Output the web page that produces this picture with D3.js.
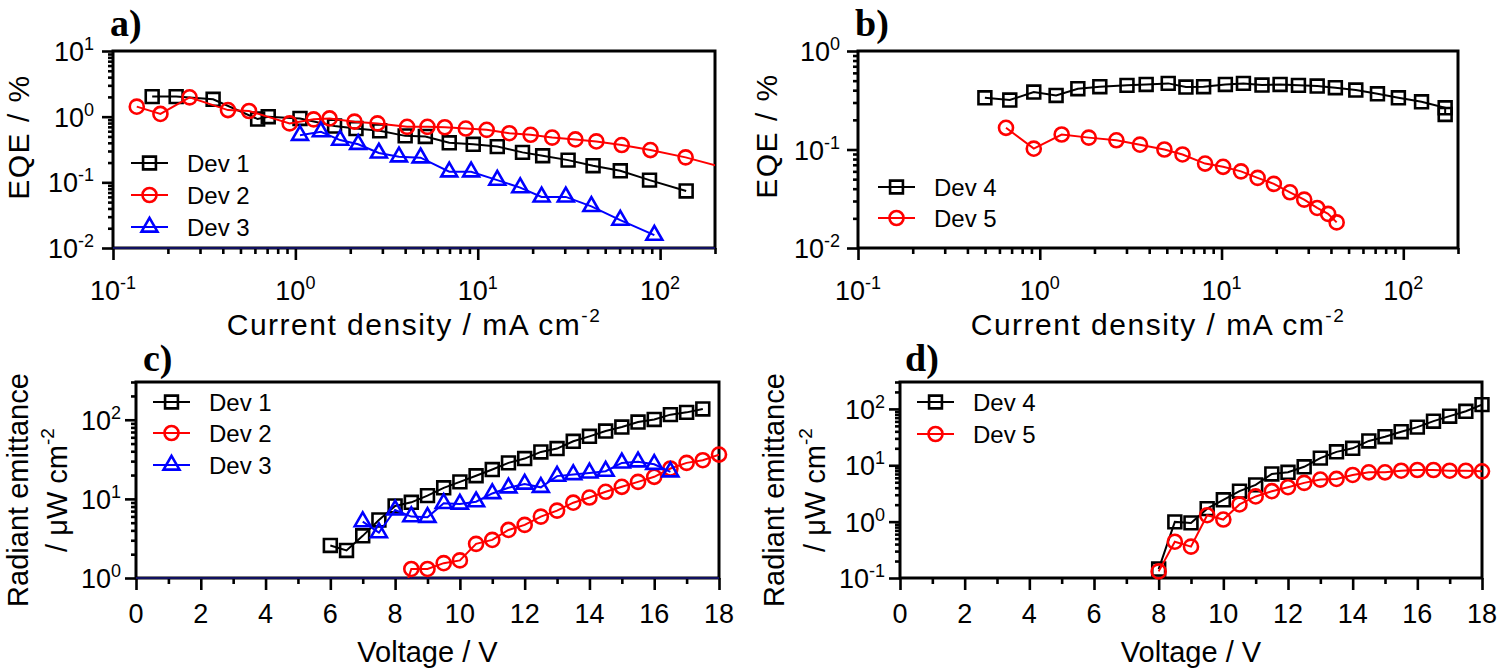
<!DOCTYPE html>
<html>
<head>
<meta charset="utf-8">
<script src="https://cdn.jsdelivr.net/npm/d3@7"></script>
<style>
  body { margin: 0; background: #fff; }
  svg text { font-family: "Liberation Sans", Arial, sans-serif; fill: #000; }
  .panel-label { font-family: "Liberation Serif", "Times New Roman", serif; font-weight: bold; }
</style>
</head>
<body>
<div id="figure"></div>
<script>
// ---- data ----
// a) EQE (%) vs current density (mA cm-2)
var dev1J = [0.164, 0.222, 0.354, 0.621, 0.71, 1.06, 1.64, 2.15, 2.9, 4.0, 5.16, 6.98, 9.45, 12.8, 17.6, 22.7, 31.3, 42.9, 60.5, 87.5, 139];
var dev1EQE = [2.02, 2.02, 1.84, 0.92, 1.0, 0.94, 0.72, 0.66, 0.61, 0.51, 0.50, 0.40, 0.38, 0.35, 0.286, 0.254, 0.218, 0.179, 0.15, 0.108, 0.074];
var dev2J = [0.135, 0.182, 0.263, 0.427, 0.557, 0.93, 1.26, 1.54, 2.11, 2.82, 4.1, 5.3, 6.6, 8.6, 11.2, 14.9, 19.5, 25.6, 34.3, 44.7, 61.6, 88.5, 138, 220];
var dev2EQE = [1.42, 1.10, 1.97, 1.26, 1.22, 0.79, 0.91, 0.94, 0.84, 0.79, 0.70, 0.70, 0.69, 0.66, 0.63, 0.56, 0.53, 0.48, 0.45, 0.42, 0.37, 0.31, 0.24, 0.17];
var dev3J = [1.06, 1.38, 1.76, 2.21, 2.87, 3.7, 4.86, 6.98, 9.2, 12.8, 17.1, 22.4, 30.4, 42, 60.5, 93];
var dev3EQE = [0.52, 0.59, 0.44, 0.38, 0.28, 0.245, 0.237, 0.145, 0.145, 0.108, 0.083, 0.060, 0.060, 0.043, 0.0266, 0.0157];

// b) EQE (%) vs current density
var dev4J = [0.499, 0.684, 0.927, 1.23, 1.62, 2.14, 3.02, 3.85, 5.09, 6.37, 7.97, 10.5, 13.2, 16.7, 21.0, 26.5, 33.6, 42.3, 54.8, 72.1, 94, 126, 170, 170];
var dev4EQE = [0.335, 0.318, 0.383, 0.354, 0.414, 0.434, 0.448, 0.458, 0.469, 0.431, 0.434, 0.458, 0.469, 0.451, 0.458, 0.448, 0.441, 0.424, 0.401, 0.368, 0.335, 0.305, 0.265, 0.227];
var dev5J = [0.652, 0.927, 1.32, 1.86, 2.64, 3.56, 4.85, 6.1, 8.12, 10.2, 12.8, 15.8, 19.4, 23.8, 28.5, 33.6, 38.6, 43];
var dev5EQE = [0.166, 0.102, 0.142, 0.132, 0.124, 0.112, 0.100, 0.089, 0.072, 0.0667, 0.060, 0.0515, 0.0448, 0.0368, 0.031, 0.0255, 0.0222, 0.0182];

// c) radiant emittance (uW cm-2) vs voltage (V)
var dev1V = [6, 6.5, 7, 7.5, 8, 8.5, 9, 9.5, 10, 10.5, 11, 11.5, 12, 12.5, 13, 13.5, 14, 14.5, 15, 15.5, 16, 16.5, 17, 17.5];
var dev1Rad = [2.58, 2.23, 3.41, 5.42, 8.13, 9.04, 11.0, 13.8, 16.4, 19.6, 23.5, 28.5, 32.3, 39.2, 43.2, 53.4, 61.7, 72.0, 80.9, 93.5, 101, 116, 124, 137];
var dev2V = [8, 8.5, 9, 9.5, 10, 10.5, 11, 11.5, 12, 12.5, 13, 13.5, 14, 14.5, 15, 15.5, 16, 16.5, 17, 17.5, 18];
var dev2Rad = [0.31, 1.30, 1.30, 1.54, 1.67, 2.70, 3.03, 4.05, 4.69, 5.97, 7.10, 8.95, 10.4, 12.3, 14.2, 16.4, 19.0, 24.2, 28.5, 30.8, 36.3];
var dev3V = [7, 7.5, 8, 8.5, 9, 9.5, 10, 10.5, 11, 11.5, 12, 12.5, 13, 13.5, 14, 14.5, 15, 15.5, 16, 16.5];
var dev3Rad = [5.16, 3.75, 7.24, 5.97, 5.85, 8.78, 8.61, 9.21, 11.7, 13.8, 15.4, 14.0, 19.4, 20.3, 21.3, 22.4, 28.5, 29.4, 27.4, 22.0];

// d) radiant emittance vs voltage
var dev45V = [8, 8.5, 9, 9.5, 10, 10.5, 11, 11.5, 12, 12.5, 13, 13.5, 14, 14.5, 15, 15.5, 16, 16.5, 17, 17.5, 18];
var dev4Rad = [0.144, 0.99, 0.95, 1.70, 2.44, 3.47, 4.49, 7.0, 7.5, 9.4, 13.4, 17.3, 20.0, 27.0, 32.1, 39.4, 47.5, 60.6, 74.3, 90.8, 119];
var dev5Rad = [0.131, 0.44, 0.36, 1.30, 1.09, 2.02, 2.80, 3.47, 4.08, 4.87, 5.57, 5.72, 6.73, 7.5, 7.5, 8.0, 8.24, 8.24, 8.0, 8.0, 7.8];

// ---- chart setup ----
var svgWidth = 1501;
var svgHeight = 670;

var svg = d3.select("#figure")
  .append("svg")
  .attr("width", svgWidth)
  .attr("height", svgHeight);

var symbols = {
  square: d3.symbol().type(d3.symbolSquare).size(165),
  circle: d3.symbol().type(d3.symbolCircle).size(155),
  triangle: d3.symbol().type(d3.symbolTriangle).size(110)
};

function isPow10(v) {
  var l = Math.log10(v);
  return Math.abs(l - Math.round(l)) < 1e-9;
}

// writes "10" with a raised exponent
function powerLabel(textSel, v) {
  textSel.append("tspan").text("10");
  textSel.append("tspan")
    .attr("dy", -11)
    .attr("font-size", 18)
    .text(Math.round(Math.log10(v)));
}

function drawPanel(p) {
  var g = svg.append("g");

  var x = (p.xLog ? d3.scaleLog() : d3.scaleLinear())
    .domain(p.xDomain)
    .range([p.left, p.right]);
  var y = d3.scaleLog()
    .domain(p.yDomain)
    .range([p.bottom, p.top]);

  var xAll = p.xLog ? x.ticks() : x.ticks(18);
  var xMajor = xAll.filter(v => p.xLog ? isPow10(v) : v % 2 === 0);
  var xMinor = xAll.filter(v => xMajor.indexOf(v) < 0);
  var yAll = y.ticks();
  var yMajor = yAll.filter(isPow10);
  var yMinor = yAll.filter(v => !isPow10(v));

  // axes (ticks only, the frame is drawn as a rect)
  var axes = [
    g.append("g").attr("transform", `translate(0, ${p.bottom})`)
      .call(d3.axisBottom(x).tickValues(xMajor).tickSize(12).tickFormat("")),
    g.append("g").attr("transform", `translate(0, ${p.bottom})`)
      .call(d3.axisBottom(x).tickValues(xMinor).tickSize(6).tickFormat("")),
    g.append("g").attr("transform", `translate(${p.left}, 0)`)
      .call(d3.axisLeft(y).tickValues(yMajor).tickSize(11).tickFormat("")),
    g.append("g").attr("transform", `translate(${p.left}, 0)`)
      .call(d3.axisLeft(y).tickValues(yMinor).tickSize(5).tickFormat(""))
  ];
  axes.forEach(function(a) {
    a.select(".domain").remove();
    a.selectAll(".tick line").attr("stroke", "#000").attr("stroke-width", 2.6);
  });

  g.append("rect")
    .attr("x", p.left)
    .attr("y", p.top)
    .attr("width", p.right - p.left)
    .attr("height", p.bottom - p.top)
    .attr("fill", "none")
    .attr("stroke", "#000")
    .attr("stroke-width", 3);

  if (p.baseColor) {
    g.append("line")
      .attr("x1", p.left).attr("x2", p.right)
      .attr("y1", p.bottom).attr("y2", p.bottom)
      .attr("stroke", p.baseColor)
      .attr("stroke-width", 1.2);
  }

  // tick labels
  g.selectAll(".xlab")
    .data(xMajor)
    .enter()
    .append("text")
    .attr("x", d => x(d))
    .attr("y", p.bottom + p.xLabelDy)
    .attr("text-anchor", "middle")
    .attr("font-size", 27)
    .each(function(d) {
      if (p.xLog) powerLabel(d3.select(this), d);
      else d3.select(this).text(d);
    });

  g.selectAll(".ylab")
    .data(yMajor)
    .enter()
    .append("text")
    .attr("x", p.left - p.yLabelGap)
    .attr("y", d => y(d) + 10)
    .attr("text-anchor", "end")
    .attr("font-size", 27)
    .each(function(d) { powerLabel(d3.select(this), d); });

  // axis titles
  var xt = g.append("text")
    .attr("x", (p.left + p.right) / 2)
    .attr("y", p.bottom + p.xTitleDy)
    .attr("text-anchor", "middle")
    .attr("font-size", p.titleSize)
    .attr("letter-spacing", p.titleSpacing);
  xt.append("tspan").text(p.xTitle);
  if (p.xTitleSup) {
    xt.append("tspan").attr("dy", -13).attr("font-size", 19).text(p.xTitleSup);
  }

  p.yTitle.forEach(function(t) {
    var yt = g.append("text")
      .attr("transform", `translate(${t.cx}, ${p.yTitleCy}) rotate(-90)`)
      .attr("dy", "0.36em")
      .attr("text-anchor", "middle")
      .attr("font-size", p.titleSize)
      .attr("letter-spacing", p.titleSpacing);
    yt.append("tspan").text(t.text);
    if (t.sup) {
      yt.append("tspan").attr("dy", -13).attr("font-size", 19).text(t.sup);
    }
  });

  // panel letter
  g.append("text")
    .attr("class", "panel-label")
    .attr("x", p.labelX)
    .attr("y", p.labelY)
    .attr("font-size", 38)
    .text(p.label);

  // series
  var clipId = "clip-" + p.label.replace(")", "");
  svg.append("clipPath")
    .attr("id", clipId)
    .append("rect")
    .attr("x", p.left)
    .attr("y", p.top)
    .attr("width", p.right - p.left)
    .attr("height", p.bottom - p.top);

  var line = d3.line()
    .x(d => x(d[0]))
    .y(d => y(d[1]));

  p.series.forEach(function(s, i) {
    var pts = d3.zip(s.x, s.y);
    g.append("path")
      .datum(pts)
      .attr("d", line)
      .attr("fill", "none")
      .attr("stroke", s.color)
      .attr("stroke-width", 2)
      .attr("clip-path", `url(#${clipId})`);

    var inside = pts.filter(d => d[0] >= x.domain()[0] && d[0] <= x.domain()[1] &&
      d[1] >= y.domain()[0] && d[1] <= y.domain()[1]);
    g.selectAll(".m" + i)
      .data(inside)
      .enter()
      .append("path")
      .attr("d", symbols[s.symbol])
      .attr("transform", d => `translate(${x(d[0])}, ${y(d[1])})`)
      .attr("fill", "none")
      .attr("stroke", s.color)
      .attr("stroke-width", 2.6);

    // legend entry
    var ly = p.legend.y[i];
    g.append("line")
      .attr("x1", p.legend.x).attr("x2", p.legend.x + 37)
      .attr("y1", ly).attr("y2", ly)
      .attr("stroke", s.color)
      .attr("stroke-width", 2);
    g.append("path")
      .attr("d", symbols[s.symbol])
      .attr("transform", `translate(${p.legend.x + 18.5}, ${ly})`)
      .attr("fill", "none")
      .attr("stroke", s.color)
      .attr("stroke-width", 2.6);
    g.append("text")
      .attr("x", p.legend.x + 56)
      .attr("y", ly + 8.5)
      .attr("font-size", 24)
      .text(s.name);
  });
}

var black = "#000000";
var red = "#ff0000";
var blue = "#0000ff";

drawPanel({
  label: "a)", labelX: 110, labelY: 36,
  left: 113, right: 715, top: 51, bottom: 248,
  xLog: true, xDomain: [0.1, 200], yDomain: [0.01, 10],
  xLabelDy: 52, xTitleDy: 87, yLabelGap: 19,
  titleSize: 30, titleSpacing: 1.5,
  xTitle: "Current density / mA cm", xTitleSup: "-2",
  yTitle: [{ cx: 18, text: "EQE / %" }], yTitleCy: 137,
  baseColor: "#2020c0",
  legend: { x: 131, y: [163, 195, 227] },
  series: [
    { name: "Dev 1", x: dev1J, y: dev1EQE, color: black, symbol: "square" },
    { name: "Dev 2", x: dev2J, y: dev2EQE, color: red, symbol: "circle" },
    { name: "Dev 3", x: dev3J, y: dev3EQE, color: blue, symbol: "triangle" }
  ]
});

drawPanel({
  label: "b)", labelX: 855, labelY: 36,
  left: 858, right: 1458, top: 51, bottom: 248,
  xLog: true, xDomain: [0.1, 200], yDomain: [0.01, 1],
  xLabelDy: 52, xTitleDy: 87, yLabelGap: 18,
  titleSize: 30, titleSpacing: 1.5,
  xTitle: "Current density / mA cm", xTitleSup: "-2",
  yTitle: [{ cx: 766, text: "EQE / %" }], yTitleCy: 136,
  legend: { x: 878, y: [187, 218] },
  series: [
    { name: "Dev 4", x: dev4J, y: dev4EQE, color: black, symbol: "square" },
    { name: "Dev 5", x: dev5J, y: dev5EQE, color: red, symbol: "circle" }
  ]
});

drawPanel({
  label: "c)", labelX: 143, labelY: 371,
  left: 136, right: 719, top: 382, bottom: 578,
  xLog: false, xDomain: [0, 18], yDomain: [1, 300],
  xLabelDy: 45, xTitleDy: 84, yLabelGap: 15,
  titleSize: 29, titleSpacing: 0,
  xTitle: "Voltage / V",
  yTitle: [{ cx: 18, text: "Radiant emittance" }, { cx: 57, text: "/ \u03bcW cm", sup: "-2" }], yTitleCy: 490,
  baseColor: "#2020c0",
  legend: { x: 153, y: [402, 433, 465] },
  series: [
    { name: "Dev 1", x: dev1V, y: dev1Rad, color: black, symbol: "square" },
    { name: "Dev 2", x: dev2V, y: dev2Rad, color: red, symbol: "circle" },
    { name: "Dev 3", x: dev3V, y: dev3Rad, color: blue, symbol: "triangle" }
  ]
});

drawPanel({
  label: "d)", labelX: 905, labelY: 371,
  left: 900, right: 1482, top: 382, bottom: 578,
  xLog: false, xDomain: [0, 18], yDomain: [0.1, 300],
  xLabelDy: 45, xTitleDy: 84, yLabelGap: 15,
  titleSize: 29, titleSpacing: 0,
  xTitle: "Voltage / V",
  yTitle: [{ cx: 774, text: "Radiant emittance" }, { cx: 815, text: "/ \u03bcW cm", sup: "-2" }], yTitleCy: 490,
  legend: { x: 917, y: [402, 434] },
  series: [
    { name: "Dev 4", x: dev45V, y: dev4Rad, color: black, symbol: "square" },
    { name: "Dev 5", x: dev45V, y: dev5Rad, color: red, symbol: "circle" }
  ]
});
</script>
</body>
</html>
